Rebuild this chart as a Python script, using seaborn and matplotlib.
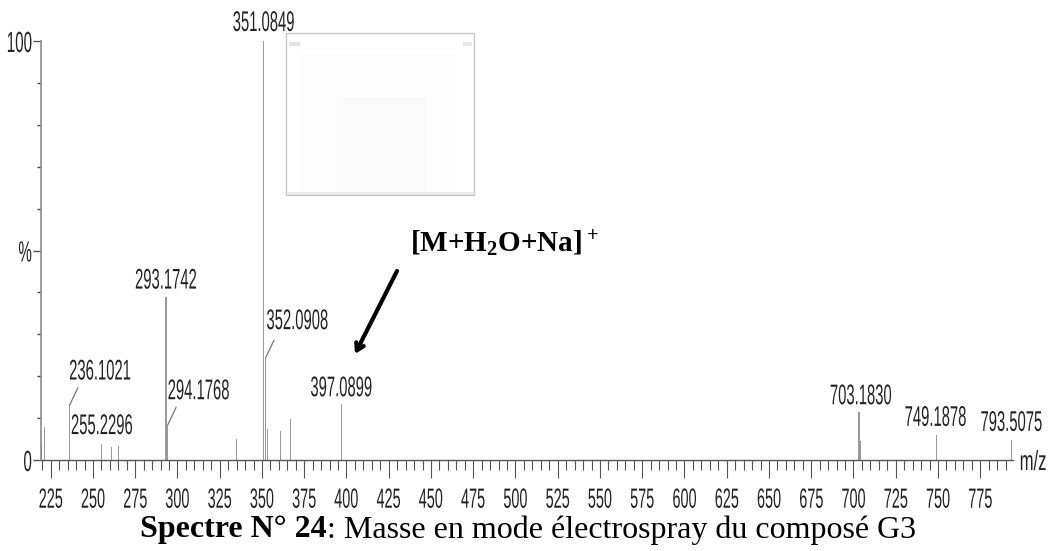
import matplotlib
matplotlib.use("Agg")
import matplotlib.pyplot as plt
import matplotlib.patches as mp
from matplotlib.patheffects import AbstractPathEffect
from matplotlib.transforms import Affine2D, Bbox
import seaborn as sns
from matplotlib.ticker import MultipleLocator, FixedLocator, FixedFormatter

# ---- data ----
mz = [219.6, 221.3, 236.1021, 255.2296, 261.0, 265.0, 293.1742, 294.1768, 335.0,
      351.0849, 352.0908, 353.1, 361.0, 367.0, 397.0899, 703.1830, 704.19,
      749.1878, 793.5075]
intensity = [4.0, 7.9, 13.0, 3.8, 3.1, 3.3, 39.0, 8.3, 5.0,
             100.0, 24.3, 7.4, 6.9, 9.8, 13.3, 11.4, 4.5, 6.0, 4.8]
peak_labels = ["236.1021", "255.2296", "293.1742", "294.1768", "351.0849",
               "352.0908", "397.0899", "703.1830", "749.1878", "793.5075"]
y_tick_values = [0, 50, 100]
y_tick_labels = ["0", "%", "100"]
x_tick_values = list(range(225, 800, 25))
x_tick_labels = [str(v) for v in x_tick_values]

# ---- style ----
W, H = 1052, 551
sns.set_style("white")
SANS = ["Liberation Sans", "DejaVu Sans"]
SERIF = ["Liberation Serif", "DejaVu Serif"]
plt.rcParams["font.family"] = SANS
plt.rcParams["mathtext.fontset"] = "custom"
plt.rcParams["mathtext.rm"] = "Liberation Serif:bold"
plt.rcParams["mathtext.default"] = "rm"
PX = 0.72  # points per pixel at dpi 100
FX = 0.52  # horizontal squeeze of the instrument's tall, narrow lettering


class Squeeze(AbstractPathEffect):
    """Draw text condensed horizontally about its centre or its right edge."""

    def __init__(self, fx, anchor="center"):
        super().__init__()
        self.fx, self.anchor = fx, anchor

    def draw_path(self, renderer, gc, tpath, affine, rgbFace=None):
        e = tpath.get_extents(affine)
        x0 = e.x1 if self.anchor == "right" else 0.5 * (e.x0 + e.x1)
        t = affine + Affine2D().translate(-x0, 0).scale(self.fx, 1).translate(x0, 0)
        renderer.draw_path(gc, tpath, t, rgbFace)


def squeeze(text, fx=FX, anchor="center"):
    """Condense a text and make its reported extent match what is drawn."""
    text.set_path_effects([Squeeze(fx, anchor)])
    orig = text.get_window_extent

    def extent(renderer=None, dpi=None):
        b = orig(renderer, dpi)
        x0 = b.x1 if anchor == "right" else 0.5 * (b.x0 + b.x1)
        return Bbox.from_extents(x0 + (b.x0 - x0) * fx, b.y0, x0 + (b.x1 - x0) * fx, b.y1)

    text.get_window_extent = extent
    return text


fig = plt.figure(figsize=(W / 100, H / 100), dpi=100)
L, R, T, B = 41, 1013, 41, 460
ax = fig.add_axes([L / W, 1 - B / H, (R - L) / W, (B - T) / H])


def frect(x0, y0, x1, y1, **kw):
    fig.add_artist(mp.Rectangle((x0 / W, 1 - y1 / H), (x1 - x0) / W, (y1 - y0) / H,
                                transform=fig.transFigure, **kw))


sns.barplot(x=mz, y=intensity, native_scale=True, width=0.8, color="#999999",
            saturation=1, linewidth=0, ax=ax)
ax.set_xlim(219.26, 794.4)
ax.set_ylim(0, 100)
ax.patch.set_alpha(0)
for s in ("top", "right"):
    ax.spines[s].set_visible(False)
ax.spines["left"].set_color("#8c8c8c")
ax.spines["left"].set_linewidth(1.2)
ax.spines["bottom"].set_color("#555555")
ax.spines["bottom"].set_linewidth(1.0)

ax.xaxis.set_major_locator(FixedLocator(x_tick_values))
ax.xaxis.set_major_formatter(FixedFormatter(x_tick_labels))
ax.xaxis.set_minor_locator(MultipleLocator(5))
ax.yaxis.set_major_locator(FixedLocator(y_tick_values))
ax.yaxis.set_major_formatter(FixedFormatter(y_tick_labels))
ax.yaxis.set_minor_locator(MultipleLocator(10))
ax.tick_params(axis="x", which="major", bottom=True, length=18 * PX, width=0.8,
               color="#555555", labelsize=20, pad=7, labelcolor="#222222")
ax.tick_params(axis="x", which="minor", bottom=True, length=10 * PX, width=0.8, color="#555555")
ax.tick_params(axis="y", which="major", left=True, length=8 * PX, width=0.9,
               color="#444444", labelsize=21, pad=0.5, labelcolor="#222222")
ax.tick_params(axis="y", which="minor", left=True, length=4 * PX, width=1.0, color="#444444")
for t in ax.get_xticklabels():
    squeeze(t)
for t in ax.get_yticklabels():
    squeeze(t, anchor="right")

# peak labels: offset of label centre from peak top, in pixels (dx, dy up)
offsets = {"236.1021": (30.5, 33), "255.2296": (0, 17), "293.1742": (0, 15),
           "294.1768": (31, 33), "351.0849": (0, 17), "352.0908": (32, 36),
           "397.0899": (0, 15), "703.1830": (2, 15), "749.1878": (-1, 16),
           "793.5075": (0, 16)}
leaders = {"236.1021", "294.1768", "352.0908"}
for lab in peak_labels:
    m = float(lab)
    h = intensity[mz.index(m)]
    dx, dy = offsets[lab]
    a = ax.annotate(lab, xy=(m, h), xytext=(dx * PX, dy * PX), textcoords="offset points",
                    ha="center", va="center", fontsize=20.5, color="#222222",
                    annotation_clip=False)
    squeeze(a)
    if lab in leaders:
        ax.annotate("", xy=(m, h), xytext=(8.5 * PX, 18 * PX), textcoords="offset points",
                    arrowprops=dict(arrowstyle="-", color="#777777", lw=0.9,
                                    shrinkA=0, shrinkB=0), annotation_clip=False)

squeeze(fig.text(1033 / W, 1 - 463 / H, "m/z", ha="center", va="center", fontsize=20,
                 color="#222222"), fx=0.6)

# faint inset picture
frect(286, 33, 474, 195, fc="white", ec="#c4c4c4", lw=0.9, zorder=-5)
frect(299, 54, 456, 195, fc="#fdfdfd", ec="none", zorder=-4)
frect(343, 97, 427, 195, fc="#fafafa", ec="none", zorder=-3)
frect(287, 192, 473, 195, fc="#e8e8e8", ec="none", zorder=-3)
frect(289, 42, 300, 46, fc="#e2e2e2", ec="none", zorder=-3)
frect(463, 42, 472, 46, fc="#e8e8e8", ec="none", zorder=-3)

# annotation and arrow
fig.text(410 / W, 1 - 244 / H, r"[M+H$_2$O+Na]$^+$", ha="left", va="center",
         fontsize=21, family=SERIF, fontweight="bold", color="black")
fig.add_artist(mp.FancyArrowPatch((397 / W, 1 - 271 / H), (355 / W, 1 - 354 / H),
                                  transform=fig.transFigure,
                                  arrowstyle="->,head_length=5,head_width=3",
                                  color="black", lw=3, shrinkA=0, shrinkB=0))

# caption
y_cap = 1 - 530 / H
t1 = fig.text(140 / W, y_cap, "Spectre N° 24", ha="left", va="center", fontsize=23,
              family=SERIF, fontweight="bold", color="black")
fig.canvas.draw()
x_end = t1.get_window_extent().x1
fig.text(x_end / W, y_cap, ": Masse en mode électrospray du composé G3", ha="left", va="center",
         fontsize=23, family=SERIF, color="black")

fig.savefig("out.png", dpi=100)
